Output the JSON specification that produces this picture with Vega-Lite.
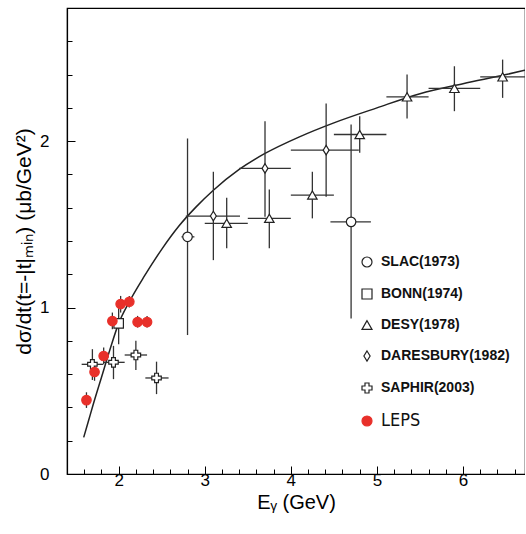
{
  "$schema": "https://vega.github.io/schema/vega-lite/v6.json",
  "width": 458,
  "height": 466,
  "autosize": {"type": "none"},
  "padding": {"left": 67, "top": 8, "right": 0, "bottom": 60},
  "background": "white",
  "config": {
    "view": {"stroke": "black", "strokeWidth": 1.2},
    "font": "Liberation Sans",
    "axis": {"grid": false, "domainColor": "black", "tickColor": "black", "labelColor": "black", "titleColor": "black", "labelFont": "Liberation Sans", "titleFont": "Liberation Sans", "titleFontWeight": "normal", "domainWidth": 1.2, "tickWidth": 1}
  },
  "datasets": {
    "pts": [
      {"exp": "SLAC(1973)", "E": 2.80, "y": 1.425, "ylo": 0.835, "yhi": 2.016, "xlo": 2.73, "xhi": 2.88},
      {"exp": "SLAC(1973)", "E": 4.70, "y": 1.515, "ylo": 0.935, "yhi": 2.10, "xlo": 4.46, "xhi": 4.93},
      {"exp": "BONN(1974)", "E": 2.0, "y": 0.905, "ylo": 0.78, "yhi": 1.03},
      {"exp": "DESY(1978)", "E": 3.255, "y": 1.506, "ylo": 1.356, "yhi": 1.66, "xlo": 3.0, "xhi": 3.5},
      {"exp": "DESY(1978)", "E": 3.75, "y": 1.536, "ylo": 1.356, "yhi": 1.71, "xlo": 3.5, "xhi": 4.0},
      {"exp": "DESY(1978)", "E": 4.25, "y": 1.676, "ylo": 1.536, "yhi": 1.816, "xlo": 4.0, "xhi": 4.5},
      {"exp": "DESY(1978)", "E": 4.80, "y": 2.04, "ylo": 1.93, "yhi": 2.15, "xlo": 4.5, "xhi": 5.11},
      {"exp": "DESY(1978)", "E": 5.35, "y": 2.266, "ylo": 2.136, "yhi": 2.40, "xlo": 5.11, "xhi": 5.60},
      {"exp": "DESY(1978)", "E": 5.90, "y": 2.317, "ylo": 2.18, "yhi": 2.45, "xlo": 5.60, "xhi": 6.20},
      {"exp": "DESY(1978)", "E": 6.46, "y": 2.386, "ylo": 2.26, "yhi": 2.49, "xlo": 6.20, "xhi": 6.72},
      {"exp": "DARESBURY(1982)", "E": 3.10, "y": 1.55, "ylo": 1.285, "yhi": 1.816, "xlo": 2.78, "xhi": 3.41},
      {"exp": "DARESBURY(1982)", "E": 3.70, "y": 1.836, "ylo": 1.545, "yhi": 2.12, "xlo": 3.40, "xhi": 4.0},
      {"exp": "DARESBURY(1982)", "E": 4.41, "y": 1.946, "ylo": 1.666, "yhi": 2.226, "xlo": 4.0, "xhi": 4.79},
      {"exp": "SAPHIR(2003)", "E": 1.695, "y": 0.659, "ylo": 0.565, "yhi": 0.75, "xlo": 1.57, "xhi": 1.82},
      {"exp": "SAPHIR(2003)", "E": 1.94, "y": 0.671, "ylo": 0.57, "yhi": 0.77, "xlo": 1.82, "xhi": 2.07},
      {"exp": "SAPHIR(2003)", "E": 2.20, "y": 0.715, "ylo": 0.625, "yhi": 0.80, "xlo": 2.07, "xhi": 2.33},
      {"exp": "SAPHIR(2003)", "E": 2.44, "y": 0.577, "ylo": 0.48, "yhi": 0.675, "xlo": 2.31, "xhi": 2.58},
      {"exp": "LEPS", "E": 1.626, "y": 0.444, "ylo": 0.397, "yhi": 0.491},
      {"exp": "LEPS", "E": 1.72, "y": 0.613, "ylo": 0.56, "yhi": 0.67},
      {"exp": "LEPS", "E": 1.826, "y": 0.709, "ylo": 0.66, "yhi": 0.76},
      {"exp": "LEPS", "E": 1.927, "y": 0.919, "ylo": 0.87, "yhi": 0.97},
      {"exp": "LEPS", "E": 2.023, "y": 1.021, "ylo": 0.97, "yhi": 1.07},
      {"exp": "LEPS", "E": 2.124, "y": 1.035, "ylo": 1.0, "yhi": 1.07},
      {"exp": "LEPS", "E": 2.22, "y": 0.913, "ylo": 0.88, "yhi": 0.95},
      {"exp": "LEPS", "E": 2.33, "y": 0.913, "ylo": 0.88, "yhi": 0.95}
    ],
    "curve": [
      {"E": 1.594, "y": 0.22},
      {"E": 1.65, "y": 0.32},
      {"E": 1.7, "y": 0.41},
      {"E": 1.8, "y": 0.58},
      {"E": 1.9, "y": 0.75},
      {"E": 2.0, "y": 0.905},
      {"E": 2.124, "y": 1.035},
      {"E": 2.3, "y": 1.19},
      {"E": 2.5, "y": 1.35},
      {"E": 2.7, "y": 1.49},
      {"E": 2.9, "y": 1.605},
      {"E": 3.1, "y": 1.705},
      {"E": 3.4, "y": 1.83},
      {"E": 3.7, "y": 1.926},
      {"E": 4.1, "y": 2.026},
      {"E": 4.5, "y": 2.11},
      {"E": 5.0, "y": 2.2},
      {"E": 5.5, "y": 2.285},
      {"E": 6.0, "y": 2.345},
      {"E": 6.5, "y": 2.4},
      {"E": 6.72, "y": 2.426}
    ]
  },
  "encoding": {
    "x": {"type": "quantitative", "scale": {"domain": [1.4, 6.72], "nice": false, "zero": false},
      "axis": {"title": "Eᵧ (GeV)", "format": ".0f", "values": [1.4,1.6,1.8,2,2.2,2.4,2.6,2.8,3,3.2,3.4,3.6,3.8,4,4.2,4.4,4.6,4.8,5,5.2,5.4,5.6,5.8,6,6.2,6.4,6.6],
        "labelExpr": "datum.value % 1 === 0 ? datum.label : ''",
        "tickSize": {"condition": {"test": "datum.value % 1 === 0", "value": -8}, "value": -5},
        "labelFontSize": 17, "titleFontSize": 20, "labelPadding": 6, "titlePadding": 4, "labelFlush": false}},
    "y": {"type": "quantitative", "scale": {"domain": [0, 2.8], "nice": false},
      "axis": {"title": "dσ/dt(t=-|t|ₘᵢₙ) (μb/GeV²)", "format": ".0f", "values": [0,0.2,0.4,0.6,0.8,1,1.2,1.4,1.6,1.8,2,2.2,2.4,2.6],
        "labelExpr": "datum.value % 1 === 0 ? datum.label : ''",
        "tickSize": {"condition": {"test": "datum.value % 1 === 0", "value": -8}, "value": -5},
        "labelFontSize": 17, "titleFontSize": 21, "labelPadding": 26, "titlePadding": 5, "labelFlush": false}}
  },
  "layer": [
    {
      "data": {"name": "curve"},
      "mark": {"type": "line", "color": "#222", "strokeWidth": 1.5, "interpolate": "monotone"},
      "encoding": {"x": {"field": "E", "type": "quantitative"}, "y": {"field": "y", "type": "quantitative"}}
    },
    {
      "data": {"name": "pts"},
      "mark": {"type": "rule", "color": "#333", "strokeWidth": 1.3},
      "encoding": {"x": {"field": "E", "type": "quantitative"}, "y": {"field": "ylo", "type": "quantitative"}, "y2": {"field": "yhi"}}
    },
    {
      "data": {"name": "pts"},
      "transform": [{"filter": "isValid(datum.xlo)"}],
      "mark": {"type": "rule", "color": "#333", "strokeWidth": 1.3},
      "encoding": {"y": {"field": "y", "type": "quantitative"}, "x": {"field": "xlo", "type": "quantitative"}, "x2": {"field": "xhi"}}
    },
    {
      "data": {"name": "pts"},
      "mark": {"type": "point", "filled": false, "strokeWidth": 1.2, "opacity": 1, "size": 90},
      "encoding": {
        "x": {"field": "E", "type": "quantitative"},
        "y": {"field": "y", "type": "quantitative"},
        "shape": {"field": "exp", "type": "nominal",
          "scale": {"domain": ["SLAC(1973)", "BONN(1974)", "DESY(1978)", "DARESBURY(1982)", "SAPHIR(2003)", "LEPS"],
            "range": ["circle", "square", "triangle-up", "M0,-1L0.62,0L0,1L-0.62,0Z", "cross", "circle"]},
          "legend": {"orient": "none", "legendX": 293, "legendY": 247, "title": null, "symbolStrokeWidth": 1.2,
            "labelFont": {"expr": "datum.label === 'LEPS' ? 'Liberation Sans Narrow, DejaVu Sans Condensed, sans-serif' : 'Liberation Sans'"},
            "labelFontSize": {"expr": "datum.label === 'LEPS' ? 18 : 14"},
            "labelFontWeight": {"expr": "datum.label === 'LEPS' ? 'normal' : 'bold'"},
            "labelColor": "#111", "rowPadding": 16, "labelOffset": 7}},
        "fill": {"field": "exp", "type": "nominal",
          "scale": {"domain": ["SLAC(1973)", "BONN(1974)", "DESY(1978)", "DARESBURY(1982)", "SAPHIR(2003)", "LEPS"],
            "range": ["white", "white", "white", "white", "white", "#e8302a"]},
          "legend": {"orient": "none", "legendX": 293, "legendY": 247, "title": null, "symbolStrokeWidth": 1.2,
            "labelFont": {"expr": "datum.label === 'LEPS' ? 'Liberation Sans Narrow, DejaVu Sans Condensed, sans-serif' : 'Liberation Sans'"},
            "labelFontSize": {"expr": "datum.label === 'LEPS' ? 18 : 14"},
            "labelFontWeight": {"expr": "datum.label === 'LEPS' ? 'normal' : 'bold'"},
            "labelColor": "#111", "rowPadding": 16, "labelOffset": 7}},
        "stroke": {"field": "exp", "type": "nominal",
          "scale": {"domain": ["SLAC(1973)", "BONN(1974)", "DESY(1978)", "DARESBURY(1982)", "SAPHIR(2003)", "LEPS"],
            "range": ["#222", "#222", "#222", "#222", "#222", "#e8302a"]},
          "legend": {"orient": "none", "legendX": 293, "legendY": 247, "title": null, "symbolStrokeWidth": 1.2,
            "labelFont": {"expr": "datum.label === 'LEPS' ? 'Liberation Sans Narrow, DejaVu Sans Condensed, sans-serif' : 'Liberation Sans'"},
            "labelFontSize": {"expr": "datum.label === 'LEPS' ? 18 : 14"},
            "labelFontWeight": {"expr": "datum.label === 'LEPS' ? 'normal' : 'bold'"},
            "labelColor": "#111", "rowPadding": 16, "labelOffset": 7}}
      }
    },
    {
      "mark": {"type": "rule", "color": "#e8302a", "strokeWidth": 3},
      "encoding": {"x": {"datum": 2.07}, "y": {"datum": 1.58}, "y2": {"datum": 1.2}}
    },
    {
      "mark": {"type": "point", "shape": "M-1,-0.75L1,-0.75L0,0.75Z", "filled": true, "color": "#e8302a", "size": 289, "opacity": 1},
      "encoding": {"x": {"datum": 2.07}, "y": {"datum": 1.183}}
    },
    {
      "mark": {"type": "text", "text": "BUMP", "color": "#e8302a", "font": "Liberation Sans Narrow", "fontSize": 17, "align": "center", "baseline": "middle"},
      "encoding": {"x": {"datum": 2.1}, "y": {"datum": 1.684}}
    }
  ]
}
